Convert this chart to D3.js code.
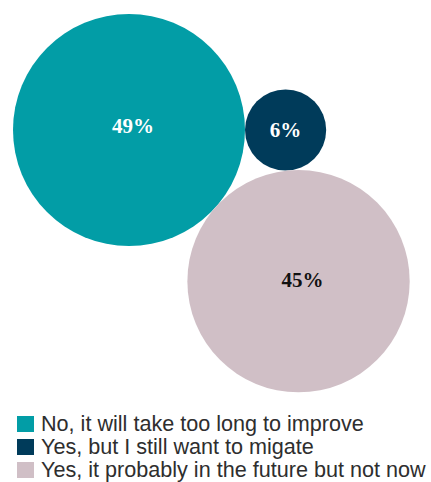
<!DOCTYPE html>
<html><head><meta charset="utf-8">
<script src="https://cdn.jsdelivr.net/npm/d3@7"></script>
<style>body{margin:0;background:#fff;overflow:hidden}svg{display:block}</style>
</head><body>
<script>
const categories = ["No, it will take too long to improve", "Yes, but I still want to migate", "Yes, it probably in the future but not now"];
const values = [49, 6, 45];
const labels = ["49%", "6%", "45%"];
const colors = ["#029da6", "#003b5a", "#d0bfc6"];
const labelColors = ["#ffffff", "#ffffff", "#111111"];

const W = 431, H = 482;
const svg = d3.select("body").append("svg").attr("width", W).attr("height", H);

const r = d3.scaleSqrt().domain([0, 49]).range([0, 116]);
const nodes = values.map((v, i) => ({v, i, r: r(v)}));
d3.packSiblings(nodes);
const a = nodes[0];
const flip = nodes[2].y < a.y ? -1 : 1;
const ox = 129 - a.x, oy = 130;
nodes.forEach(n => { n.cx = n.x + ox; n.cy = (n.y - a.y) * flip + oy; });

const g = svg.append("g");
g.selectAll("circle").data(nodes).join("circle")
  .attr("cx", d => d.cx).attr("cy", d => d.cy).attr("r", d => d.r)
  .attr("fill", d => colors[d.i]);
g.selectAll("text").data(nodes).join("text")
  .attr("x", d => d.cx + (d.i === 0 ? 4 : d.i === 2 ? 4 : 0))
  .attr("y", d => d.cy + (d.i === 0 ? -4 : d.i === 2 ? -2 : 0))
  .attr("dy", "0.35em").attr("text-anchor", "middle")
  .attr("font-family", "'Liberation Serif', serif").attr("font-weight", "bold")
  .attr("font-size", 21).attr("fill", d => labelColors[d.i])
  .text(d => labels[d.i]);

const legY = d3.scalePoint().domain(categories).range([431, 477]);
const leg = svg.append("g").selectAll("g").data(categories).join("g")
  .attr("transform", d => `translate(0,${legY(d)})`);
leg.append("rect").attr("x", 17).attr("y", -15).attr("width", 17).attr("height", 16)
  .attr("fill", (d, i) => colors[i]);
leg.append("text").attr("x", 41).attr("y", 0)
  .attr("font-family", "'Liberation Sans', Arial, sans-serif").attr("font-size", 21.6)
  .attr("fill", "#2e2e2e").text(d => d);
</script>
</body></html>
